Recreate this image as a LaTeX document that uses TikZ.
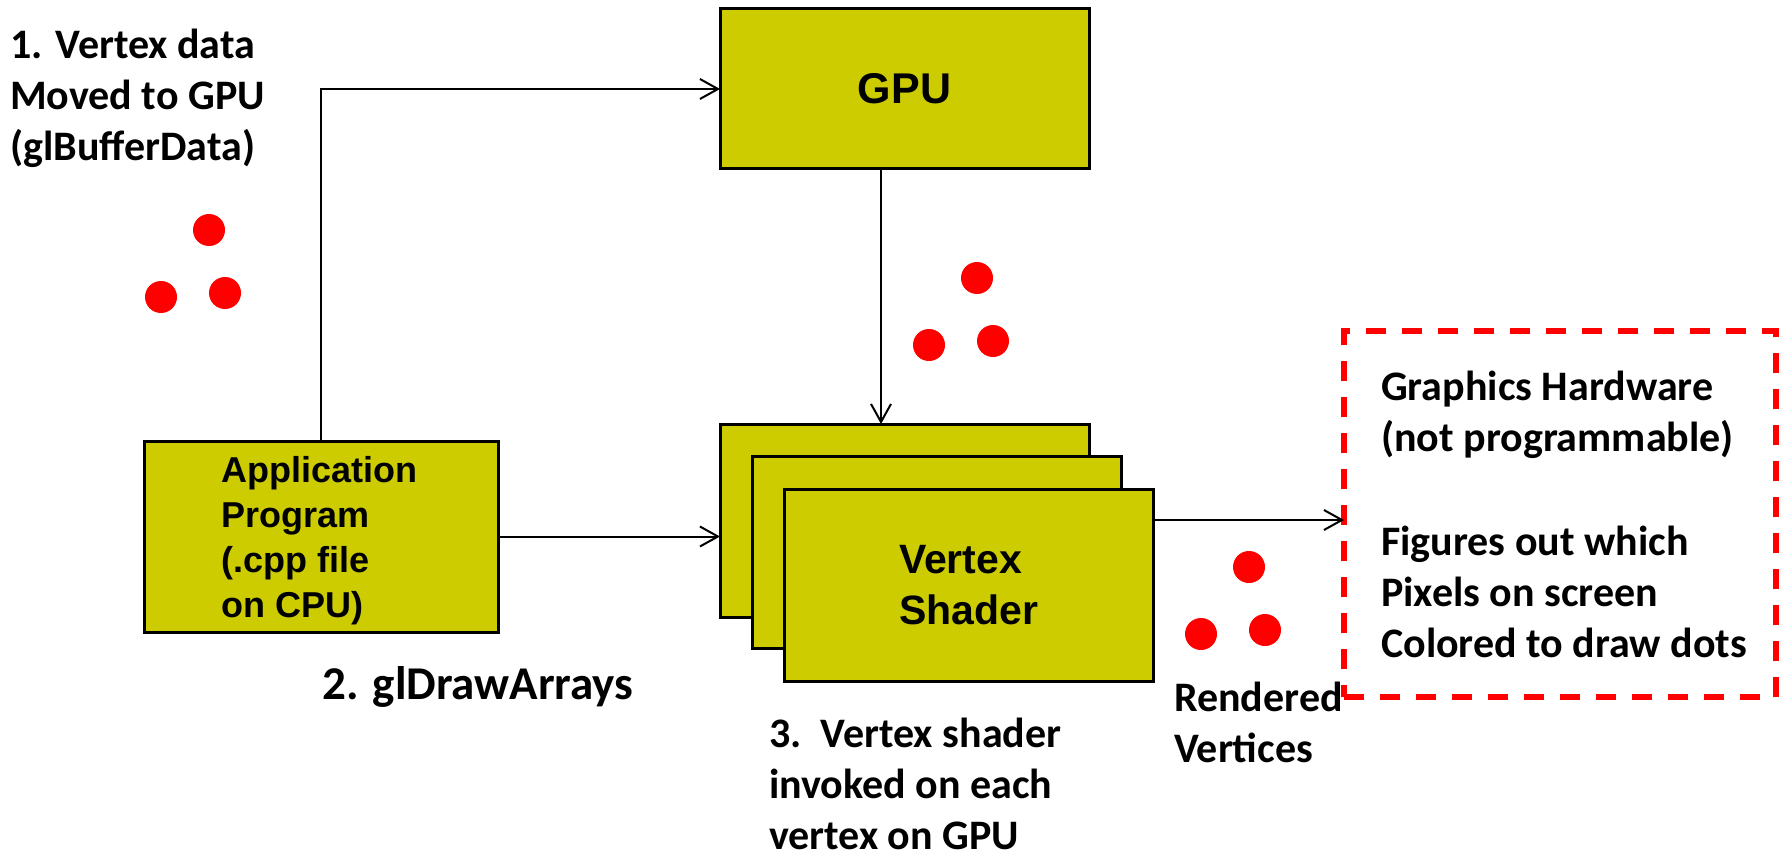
\documentclass[tikz,border=0pt]{standalone}
\usepackage{fontspec}
\setmainfont{Carlito}
\newfontfamily\arialf{Liberation Sans}
\usetikzlibrary{arrows.meta}
\definecolor{boxfill}{RGB}{204,204,0}
\definecolor{dotred}{RGB}{255,0,0}
\begin{document}
\begin{tikzpicture}[x=1pt,y=-1pt,
  box/.style={draw=black, line width=3pt, fill=boxfill, inner sep=0pt, outer sep=0pt},
  conn/.style={draw=black, line width=2pt, -{Straight Barb[length=18pt,width=20pt,line width=2pt]}},
  dot/.style={circle, fill=dotred, minimum size=32pt, inner sep=0pt},
  lab/.style={font=\bfseries\fontsize{42}{51}\selectfont, align=left, anchor=base west, inner sep=0pt},
  boxtxt/.style={font=\arialf\bfseries\fontsize{36}{44.7}\selectfont, align=left, anchor=base west, inner sep=0pt},
  hwbox/.style={draw=dotred, line width=5.5pt, dash pattern=on 20pt off 16pt, inner sep=0pt, outer sep=0pt}
]
\useasboundingbox (0,0) rectangle (1783,853);

% boxes
\node[box, minimum width=369pt, minimum height=160pt,
      font=\arialf\bfseries\fontsize{43}{50}\selectfont] (gpu) at (904.5,89) {GPU};
\node[box, minimum width=354pt, minimum height=191pt] (app) at (321,536.5) {};
% base anchor of a multi-line node = baseline of its last line
\node[boxtxt] (apptxt) at (221,617) {Application\\Program\\(.cpp file\\on CPU)};
\node[box, minimum width=369pt, minimum height=193pt] (back) at (904.5,520.5) {};
\node[box, minimum width=369pt, minimum height=192pt] (mid) at (936.5,552.5) {};
\node[box, minimum width=369pt, minimum height=192pt, align=left,
      font=\arialf\bfseries\fontsize{41}{51}\selectfont] (front) at (968.5,585) {Vertex\\Shader};
\node[hwbox, minimum width=432pt, minimum height=366pt] (hw) at (1560,514) {};

% labels
\node[lab] (l1) at (10,161) {1. Vertex data\\Moved to GPU\\(glBufferData)};
\node[lab, font=\bfseries\fontsize{47}{56}\selectfont] (l2) at (322,699) {2. glDrawArrays};
\node[lab] (l3) at (769,849) {3.\ \ Vertex shader\\invoked on each\\vertex on GPU};
\node[lab] (l4) at (1174,762) {Rendered\\Vertices};
\node[lab] (l5) at (1381,657) {Graphics Hardware\\(not programmable)\\[53pt]Figures out which\\Pixels on screen\\Colored to draw dots};

% dots
\node[dot] (d1) at (209,230) {};
\node[dot] (d2) at (161,297) {};
\node[dot] (d3) at (225,293) {};
\node[dot] (d4) at (977,278) {};
\node[dot] (d5) at (929,345) {};
\node[dot] (d6) at (993,341) {};
\node[dot] (d7) at (1249,567) {};
\node[dot] (d8) at (1201,634) {};
\node[dot] (d9) at (1265,630) {};

% connectors
\coordinate (gx) at (881,0);
\coordinate (hy) at (0,520);
\draw[conn] (app.north) |- (gpu.west);
\draw[conn] (gpu.south -| gx) -- (back.north -| gx);
\draw[conn] (app.east) -- (app.east -| back.west);
\draw[conn] (front.east |- hy) -- (hw.west |- hy);
\end{tikzpicture}
\end{document}
